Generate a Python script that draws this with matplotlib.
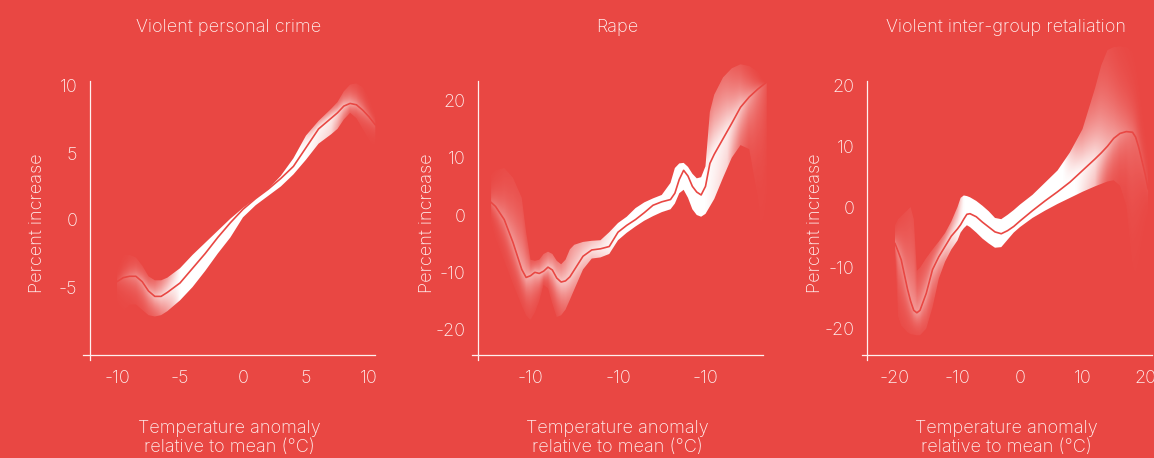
import numpy as np
import matplotlib
matplotlib.use("Agg")
import matplotlib.pyplot as plt
from matplotlib.patches import Polygon

BG = "#e94743"
FG = "#fff0ef"
plt.rcParams["font.family"] = ["Inter", "DejaVu Sans"]
plt.rcParams["font.weight"] = "light"
plt.rcParams["axes.unicode_minus"] = False

# ---- data -------------------------------------------------------------
titles = ["Violent personal crime", "Rape", "Violent inter-group retaliation"]

crime_x = [-10, -9.5, -9, -8.5, -8, -7.5, -7, -6.5, -6, -5, -4, -3, -2, -1, 0,
           1, 2, 3, 4, 5, 6, 7, 7.5, 8, 8.5, 9, 9.5, 10, 10.5]
crime_mid = [-4.6, -4.3, -4.2, -4.2, -4.6, -5.3, -5.7, -5.7, -5.4, -4.7, -3.6, -2.5,
             -1.3, -0.2, 0.8, 1.6, 2.3, 3.1, 4.0, 5.4, 6.8, 7.6, 8.0, 8.5, 8.7, 8.6,
             8.2, 7.7, 7.1]
crime_hi = [-3.0, -2.6, -2.6, -2.8, -3.4, -4.2, -4.5, -4.5, -4.3, -3.6, -2.6, -1.7,
            -0.8, 0.1, 0.9, 1.6, 2.3, 3.3, 4.6, 6.3, 7.4, 8.3, 8.8, 9.6, 10.1, 10.2,
            9.9, 9.1, 8.2]
crime_lo = [-7.4, -6.8, -6.3, -6.3, -6.7, -7.1, -7.2, -7.1, -6.8, -6.0, -5.0, -3.8,
            -2.5, -1.3, 0.2, 1.1, 1.8, 2.5, 3.4, 4.5, 5.7, 6.4, 6.8, 7.5, 8.0, 7.6,
            6.8, 6.0, 5.2]

rape_x = [-14.5, -14, -13, -12, -11, -10.5, -10, -9.5, -9, -8.5, -8, -7.5, -7, -6.5,
          -6, -5.5, -5, -4, -3, -2, -1, 0, 1, 2, 3, 4, 5, 6, 6.5, 7, 7.5, 8, 8.5, 9,
          9.5, 10, 10.5, 11, 12, 13, 14, 15, 16, 17]
rape_mid = [2.2, 1.5, -0.8, -4.8, -9.5, -10.9, -10.6, -10.0, -10.2, -9.8, -9.1, -9.6,
            -11.0, -11.7, -11.5, -10.8, -9.6, -7.2, -6.1, -5.9, -5.5, -3.0, -1.8, -0.8,
            0.4, 1.7, 2.3, 2.7, 3.8, 6.2, 7.8, 6.8, 5.0, 4.0, 3.5, 5.0, 9.0, 10.6,
            13.3, 16.0, 18.8, 20.6, 22.0, 23.2]
rape_hi = [7.0, 7.8, 8.2, 6.5, 3.0, -3.0, -7.8, -8.0, -7.8, -6.8, -6.4, -6.8, -8.0,
           -8.6, -7.8, -6.0, -5.2, -4.7, -4.5, -4.4, -3.0, -1.4, -0.3, 1.2, 2.2, 2.9,
           3.5, 5.6, 8.2, 9.0, 9.1, 8.4, 7.2, 6.4, 6.6, 8.5, 18.0, 21.0, 24.0, 25.6,
           26.3, 26.0, 25.0, 23.0]
rape_lo = [-1.5, -4.0, -8.0, -12.0, -15.8, -17.5, -18.3, -17.0, -15.0, -12.2, -12.8,
           -15.5, -17.8, -17.5, -16.5, -14.8, -13.0, -9.5, -7.6, -7.4, -6.8, -4.4,
           -3.1, -2.0, -1.0, -0.2, 0.5, 1.0, 2.0, 3.8, 4.4, 3.0, 1.0, 0.0, -0.3, 0.2,
           1.5, 2.8, 6.5, 10.0, 12.2, 11.5, 3.0, -12.0]

group_x = [-20, -19.5, -19, -18, -17.5, -17, -16.5, -16, -15, -14, -13, -12, -11, -10,
           -9.5, -9, -8.5, -8, -7, -6, -5, -4, -3, -2, -1, 0, 2, 4, 6, 8, 10, 12, 13,
           14, 15, 16, 17, 18, 18.5, 19, 20, 20.5]
group_mid = [-6.0, -7.3, -8.7, -13.5, -15.5, -17.0, -17.4, -17.0, -14.2, -10.3, -8.2,
             -6.5, -4.8, -3.6, -2.9, -2.0, -1.2, -1.1, -1.6, -2.5, -3.3, -4.1, -4.4,
             -3.9, -3.2, -2.3, -0.6, 1.0, 2.5, 4.1, 6.0, 7.9, 8.9, 10.0, 11.3, 12.1,
             12.4, 12.3, 11.5, 9.8, 5.5, 3.0]
group_hi = [-3.0, -2.0, -1.5, -0.5, 0.0, -2.0, -10.5, -10.0, -8.4, -7.0, -5.7, -4.3,
            -2.4, 0.0, 1.5, 1.9, 1.8, 1.6, 1.0, 0.2, -0.7, -1.8, -2.0, -1.3, -0.5, 0.4,
            2.0, 4.0, 6.0, 9.0, 12.8, 19.5, 23.3, 25.8, 26.3, 26.4, 26.3, 25.5, 24.5,
            22.5, 17.0, 14.5]
group_lo = [-8.0, -18.0, -19.5, -20.6, -20.9, -21.0, -21.1, -21.1, -20.0, -16.5, -11.8,
            -9.0, -7.0, -5.5, -4.2, -3.5, -3.0, -3.3, -4.2, -5.2, -6.0, -6.7, -6.6,
            -5.4, -4.2, -3.3, -1.8, -0.6, 0.5, 1.5, 2.5, 3.4, 3.8, 4.2, 4.4, 3.5, 0.3,
            -9.5, -11.0, -11.5, -8.0, -5.0]

xticks = [[-10, -5, 0, 5, 10], [-10, 0, 10], [-20, -10, 0, 10, 20]]
xticklabels = [["-10", "-5", "0", "5", "10"], ["-10", "-10", "-10"],
               ["-20", "-10", "0", "10", "20"]]
yticks = [[-5, 0, 5, 10], [-20, -10, 0, 10, 20], [-20, -10, 0, 10, 20]]

# ribbon opacity: overall along x, plus extra fading toward the upper / lower edge
fade_x = [[-10, -9, -8, -6.5, -5, 5, 7, 8.5, 10.5],
          [-14.5, -12, -10.5, -8, -5, -2, 0, 10, 12.5, 14, 15.5, 17],
          [-20, -17, -14, -12, -10, -9, 9, 12, 14, 16, 18, 20.5]]
fade_a = [[0.08, 0.3, 0.45, 0.75, 1, 1, 0.9, 0.55, 0.15],
          [0.25, 0.45, 0.55, 0.65, 0.75, 0.9, 1, 1, 0.9, 0.7, 0.4, 0.1],
          [0.35, 0.45, 0.55, 0.75, 0.95, 1, 1, 0.85, 0.6, 0.4, 0.25, 0.08]]
edge_hi_x = [[-10, -7, -5, 4.5, 5.5, 7, 10.5],
             [-14.5, -10, -5, 10, 10.5, 13, 17],
             [-20, -10, -9, 7, 9, 12, 20.5]]
edge_hi_a = [[0.5, 0.6, 1, 1, 0.6, 0.4, 0.3],
             [0.4, 0.4, 1, 1, 0.35, 0.25, 0.3],
             [0.5, 0.6, 1, 1, 0.5, 0.25, 0.3]]
edge_lo_x = [[-10, -7, -5, 7, 8.5, 10.5],
             [-14.5, -10, -7, -5, -4, 12.5, 14, 16, 17],
             [-20, -14, -11, 12, 14, 17, 20.5]]
edge_lo_a = [[0.5, 0.5, 1, 1, 0.6, 0.4],
             [0.3, 0.15, 0.15, 0.8, 1, 1, 0.6, 0.3, 0.3],
             [0.4, 0.4, 1, 1, 0.6, 0.4, 0.4]]

series = [(crime_x, crime_lo, crime_mid, crime_hi),
          (rape_x, rape_lo, rape_mid, rape_hi),
          (group_x, group_lo, group_mid, group_hi)]

# ---- layout (pixels) ------------------------------------------------------
W, H = 1154, 458
# origin px (x, y) and px per unit (x, y)
scales = [(243, 220, 12.6, 13.4), (618, 215, 8.75, 5.73), (1020, 207, 6.25, 6.08)]
boxes = [(75, 30, 390, 370), (465, 30, 780, 370), (855, 20, 1154, 370)]
vaxis = [(90, 81, 360), (478, 81, 360), (867, 81, 360)]
haxis = [(355, 83, 375), (355, 472, 763), (355, 862, 1152)]
centers = [229, 617, 1006]
ylab_x = [37, 427, 815]
FS = 13

fig = plt.figure(figsize=(W / 100, H / 100), dpi=100, facecolor=BG)


def ribbon(ax, i):
    x, lo, mid, hi = (np.asarray(v, float) for v in series[i])
    verts = np.vstack([np.column_stack([x, lo]), np.column_stack([x[::-1], hi[::-1]])])
    clip = Polygon(verts, closed=True, facecolor="none", edgecolor="none",
                   transform=ax.transData)
    ax.add_patch(clip)

    x0, x1 = ax.get_xlim()
    y0, y1 = ax.get_ylim()
    X, Y = np.meshgrid(np.linspace(x0, x1, 700), np.linspace(y0, y1, 500))
    c = np.interp(X, x, mid)
    above = Y > c
    half = np.where(above, np.interp(X, x, hi) - c, c - np.interp(X, x, lo))
    d = np.clip(np.abs(Y - c) / np.maximum(half, 1e-6), 0, 1)
    edge = np.where(above, np.interp(X, edge_hi_x[i], edge_hi_a[i]),
                    np.interp(X, edge_lo_x[i], edge_lo_a[i]))
    a = np.interp(X, fade_x[i], fade_a[i])
    rgba = np.ones(X.shape + (4,))
    rgba[..., 3] = a ** (1 + 1.6 * d) * edge ** (d ** 1.3)
    im = ax.imshow(rgba, extent=[x0, x1, y0, y1], origin="lower", aspect="auto",
                   interpolation="bilinear", zorder=2)
    im.set_clip_path(clip)
    ax.set_xlim(x0, x1)
    ax.set_ylim(y0, y1)
    ax.plot(x, mid, color=BG, lw=1.2, zorder=3)


for i in range(3):
    L, T, R, B = boxes[i]
    ox, oy, sx, sy = scales[i]
    ax = fig.add_axes([L / W, 1 - B / H, (R - L) / W, (B - T) / H])
    ax.set_facecolor("none")
    ax.set_xlim((L - ox) / sx, (R - ox) / sx)
    ax.set_ylim((oy - B) / sy, (oy - T) / sy)

    ribbon(ax, i)

    vx, vt, vb = vaxis[i]
    hy, hl, hr = haxis[i]
    for s in ["top", "right"]:
        ax.spines[s].set_visible(False)
    ax.spines["left"].set_position(("data", (vx - ox) / sx))
    ax.spines["left"].set_bounds((oy - vb) / sy, (oy - vt) / sy)
    ax.spines["bottom"].set_position(("data", (oy - hy) / sy))
    ax.spines["bottom"].set_bounds((hl - ox) / sx, (hr - ox) / sx)
    for s in ["left", "bottom"]:
        ax.spines[s].set_color(FG)
        ax.spines[s].set_linewidth(0.9)
        ax.spines[s].set_zorder(4)

    ax.set_xticks(xticks[i])
    ax.set_xticklabels(xticklabels[i])
    ax.set_yticks(yticks[i])
    ax.tick_params(length=0, colors=FG, labelsize=FS)
    ax.tick_params(axis="x", pad=11)
    ax.tick_params(axis="y", pad=9)

    fig.text(centers[i] / W, 1 - 28 / H, titles[i], color=FG, fontsize=FS,
             ha="center", va="center")
    fig.text(centers[i] / W, 1 - 438 / H,
             "Temperature anomaly\nrelative to mean (°C)", color=FG, fontsize=FS,
             ha="center", va="center", linespacing=1.2)
    fig.text(ylab_x[i] / W, 1 - 223 / H, "Percent increase", color=FG, fontsize=FS,
             rotation=90, ha="center", va="center")

fig.savefig("out.png", dpi=100, facecolor=BG)
